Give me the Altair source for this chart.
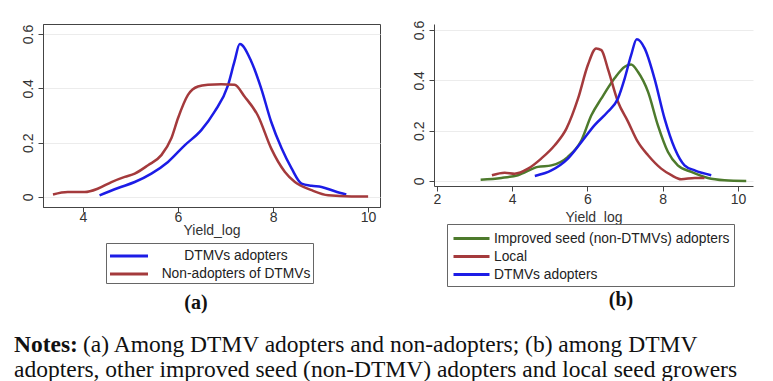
import altair as alt
import pandas as pd

# ---- Panel (a) data ----
a_groups = ["DTMVs adopters", "Non-adopters of DTMVs"]
a_dtmv_x = [4.35, 4.74, 5.09, 5.44, 5.79, 6.14, 6.49, 6.77, 7.05, 7.19, 7.30, 7.54, 7.75, 7.96, 8.18, 8.39, 8.60, 8.81, 9.02, 9.30, 9.54]
a_dtmv_y = [0.006, 0.033, 0.055, 0.086, 0.129, 0.19, 0.246, 0.314, 0.41, 0.50, 0.563, 0.50, 0.40, 0.277, 0.179, 0.105, 0.049, 0.041, 0.037, 0.021, 0.009]
a_non_x = [3.37, 3.68, 4.04, 4.32, 4.60, 4.88, 5.09, 5.37, 5.65, 5.86, 6.0, 6.21, 6.42, 6.63, 6.91, 7.19, 7.40, 7.68, 7.96, 8.25, 8.46, 8.81, 9.16, 9.65, 10.0]
a_non_y = [0.009, 0.018, 0.018, 0.031, 0.055, 0.074, 0.086, 0.117, 0.154, 0.216, 0.29, 0.376, 0.407, 0.413, 0.415, 0.413, 0.37, 0.30, 0.179, 0.092, 0.055, 0.025, 0.006, 0.002, 0.002]

# ---- Panel (b) data ----
b_groups = ["Improved seed (non-DTMVs) adopters", "Local", "DTMVs adopters"]
b_impr_x = [3.16, 3.71, 4.15, 4.68, 5.04, 5.48, 5.84, 6.10, 6.37, 6.72, 6.99, 7.16, 7.34, 7.61, 7.87, 8.14, 8.40, 8.76, 9.20, 9.64, 10.22]
b_impr_y = [0.005, 0.012, 0.023, 0.056, 0.062, 0.096, 0.162, 0.26, 0.328, 0.408, 0.454, 0.463, 0.434, 0.354, 0.222, 0.115, 0.062, 0.036, 0.012, 0.003, 0.0]
b_local_x = [3.46, 3.80, 4.06, 4.42, 4.77, 5.13, 5.44, 5.75, 6.01, 6.23, 6.37, 6.54, 6.81, 7.08, 7.34, 7.61, 7.96, 8.23, 8.49, 8.85, 9.11]
b_local_y = [0.023, 0.033, 0.029, 0.049, 0.089, 0.142, 0.208, 0.328, 0.461, 0.527, 0.52, 0.447, 0.315, 0.235, 0.155, 0.102, 0.049, 0.023, 0.007, 0.012, 0.012]
b_dtmv_x = [4.60, 5.04, 5.48, 5.84, 6.19, 6.54, 6.81, 6.99, 7.16, 7.31, 7.52, 7.78, 8.05, 8.32, 8.58, 8.85, 9.29]
b_dtmv_y = [0.02, 0.042, 0.089, 0.155, 0.222, 0.275, 0.328, 0.408, 0.50, 0.563, 0.527, 0.408, 0.248, 0.129, 0.062, 0.042, 0.023]

panel_labels = ["(a)", "(b)"]
notes_bold = ["Notes:"]
notes_lines = [
    "(a) Among DTMV adopters and non-adopters; (b) among DTMV",
    "adopters, other improved seed (non-DTMV) adopters and local seed growers",
]

BLUE = "#1c1ce6"
RED = "#a43a3c"
GREEN = "#4d7a2c"
AXC = "#444444"
SANS = "Liberation Sans"
SERIF = "Liberation Serif"
NOTE_FS = 23.5


def long_df(pairs):
    rows = []
    for name, xs, ys in pairs:
        for xv, yv in zip(xs, ys):
            rows.append({"x": xv, "y": yv, "group": name})
    return pd.DataFrame(rows)


df_a = long_df([(a_groups[0], a_dtmv_x, a_dtmv_y), (a_groups[1], a_non_x, a_non_y)])
df_b = long_df([(b_groups[0], b_impr_x, b_impr_y), (b_groups[1], b_local_x, b_local_y), (b_groups[2], b_dtmv_x, b_dtmv_y)])

y_labexpr = "datum.value == 0 ? '0' : format(datum.value, '.1f')"


def axis_x(values, lpad, tpad):
    return alt.Axis(values=values, title="Yield_log", grid=False, domainColor=AXC, tickColor=AXC,
                    tickSize=5, labelPadding=lpad, labelFont=SANS, labelFontSize=14, labelColor="#333",
                    titleFont=SANS, titleFontSize=14, titleFontWeight="normal", titleColor="#333",
                    titlePadding=tpad)


def axis_y():
    return alt.Axis(values=[0, 0.2, 0.4, 0.6], title=None, grid=True, gridColor="#ececec",
                    domainColor=AXC, tickColor=AXC, tickSize=5, labelAngle=270, labelPadding=3,
                    labelFont=SANS, labelFontSize=14, labelColor="#333", labelExpr=y_labexpr)


def legend(lx, ly, size, loff, pad, align="left"):
    return alt.Legend(title=None, orient="none", legendX=lx, legendY=ly, direction="vertical",
                      symbolType="M-2,0H2", symbolSize=size, symbolStrokeWidth=3, symbolOffset=10,
                      labelFont=SANS, labelFontSize=13.8, labelColor="#222", labelLimit=400,
                      labelAlign=align, labelOffset=loff,
                      strokeColor="#666", fillColor="white", padding=pad, rowPadding=0)


lines_a = alt.Chart(df_a).mark_line(strokeWidth=2.5, interpolate="monotone").encode(
    x=alt.X("x:Q", scale=alt.Scale(domain=[3.16, 10.25], nice=False, zero=False), axis=axis_x([4, 6, 8, 10], -2, -1)),
    y=alt.Y("y:Q", scale=alt.Scale(domain=[-0.037, 0.637], nice=False, zero=False), axis=axis_y()),
    color=alt.Color("group:N", scale=alt.Scale(domain=a_groups, range=[BLUE, RED]),
                    legend=legend(63, 219, 361, 96, 2, "center")),
)
lab_a = alt.Chart(pd.DataFrame({"t": [panel_labels[0]]})).mark_text(
    font=SERIF, fontWeight="bold", fontSize=20, color="#111", baseline="middle"
).encode(text="t:N", x=alt.value(153), y=alt.value(279))
panel_a = alt.layer(lines_a, lab_a).properties(width=337, height=183, view=alt.ViewBackground(stroke=AXC, strokeWidth=1))

lines_b = alt.Chart(df_b).mark_line(strokeWidth=2.5, interpolate="monotone").encode(
    x=alt.X("x:Q", scale=alt.Scale(domain=[1.92, 10.4], nice=False, zero=False), axis=axis_x([2, 4, 6, 8, 10], 1, 4)),
    y=alt.Y("y:Q", scale=alt.Scale(domain=[-0.02, 0.624], nice=False, zero=False), axis=axis_y()),
    color=alt.Color("group:N", scale=alt.Scale(domain=b_groups, range=[GREEN, RED, BLUE]),
                    legend=legend(13, 200, 324, 12, 4)),
)
lab_b = alt.Chart(pd.DataFrame({"t": [panel_labels[1]]})).mark_text(
    font=SERIF, fontWeight="bold", fontSize=20, color="#111", baseline="middle"
).encode(text="t:N", x=alt.value(187), y=alt.value(276))
panel_b = alt.layer(lines_b, lab_b).properties(width=319, height=162, view=alt.ViewBackground(stroke="transparent"))

row = alt.hconcat(panel_a, panel_b, spacing=54, bounds="flush").resolve_scale(color="independent").resolve_legend(color="independent")

notes_bold_c = alt.Chart(pd.DataFrame({"t": notes_bold})).mark_text(
    font=SERIF, fontWeight="bold", fontSize=NOTE_FS, color="#111", align="left", baseline="alphabetic"
).encode(text="t:N", x=alt.value(-29), y=alt.value(31))
notes_l1 = alt.Chart(pd.DataFrame({"t": [notes_lines[0]]})).mark_text(
    font=SERIF, fontSize=NOTE_FS, color="#111", align="left", baseline="alphabetic"
).encode(text="t:N", x=alt.value(40), y=alt.value(31))
notes_l2 = alt.Chart(pd.DataFrame({"t": [notes_lines[1]]})).mark_text(
    font=SERIF, fontSize=NOTE_FS, color="#111", align="left", baseline="alphabetic"
).encode(text="t:N", x=alt.value(-29), y=alt.value(56))
notes = alt.layer(notes_bold_c, notes_l1, notes_l2).properties(width=600, height=40, view=alt.ViewBackground(stroke="transparent"))

chart = alt.vconcat(row, notes, spacing=297, bounds="flush").properties(
    padding={"left": 5, "top": 11, "right": 0, "bottom": 0}
).configure(background="white")

chart.save("out.html", embed_options={"renderer": "svg", "actions": False})
